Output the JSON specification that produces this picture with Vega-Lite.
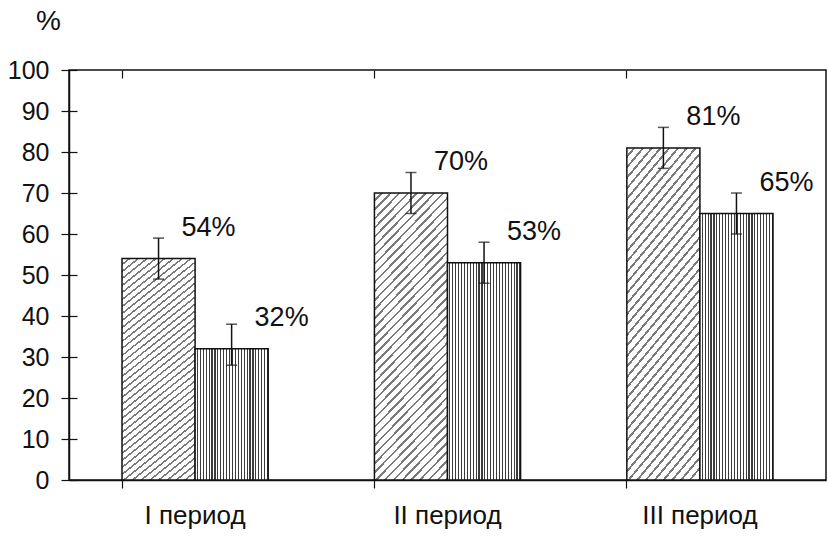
{
  "$schema": "https://vega.github.io/schema/vega-lite/v6.json",
  "width": 757,
  "height": 410,
  "autosize": {"type": "none"},
  "padding": {"left": 69, "top": 70, "right": 2, "bottom": 57},
  "background": "#ffffff",
  "config": {
    "view": {"stroke": "#111111", "strokeWidth": 1.5},
    "font": "Liberation Sans"
  },
  "data": {
    "values": [
      {"period": "I период", "series": "A", "value": 54, "lo": 49, "hi": 59, "label": "54%"},
      {"period": "I период", "series": "B", "value": 32, "lo": 28, "hi": 38, "label": "32%"},
      {"period": "II период", "series": "A", "value": 70, "lo": 65, "hi": 75, "label": "70%"},
      {"period": "II период", "series": "B", "value": 53, "lo": 48, "hi": 58, "label": "53%"},
      {"period": "III период", "series": "A", "value": 81, "lo": 76, "hi": 86, "label": "81%"},
      {"period": "III период", "series": "B", "value": 65, "lo": 60, "hi": 70, "label": "65%"}
    ]
  },
  "resolve": {"axis": {"x": "independent", "y": "independent"}},
  "layer": [
    {
      "transform": [{"filter": "datum.series == 'A'"}],
      "mark": {
        "type": "bar",
        "stroke": "#111111",
        "strokeWidth": 1.5,
        "fill": {
          "gradient": "linear", "x1": 0, "y1": 0, "x2": 0.311, "y2": 1.181,
          "stops": [
            {"offset": 0, "color": "#ffffff"}, {"offset": 0.018, "color": "#ffffff"}, {"offset": 0.018, "color": "#7a7a7a"}, {"offset": 0.025, "color": "#7a7a7a"},
            {"offset": 0.025, "color": "#ffffff"}, {"offset": 0.043, "color": "#ffffff"}, {"offset": 0.043, "color": "#7a7a7a"}, {"offset": 0.05, "color": "#7a7a7a"},
            {"offset": 0.05, "color": "#ffffff"}, {"offset": 0.068, "color": "#ffffff"}, {"offset": 0.068, "color": "#7a7a7a"}, {"offset": 0.075, "color": "#7a7a7a"},
            {"offset": 0.075, "color": "#ffffff"}, {"offset": 0.093, "color": "#ffffff"}, {"offset": 0.093, "color": "#7a7a7a"}, {"offset": 0.1, "color": "#7a7a7a"},
            {"offset": 0.1, "color": "#ffffff"}, {"offset": 0.118, "color": "#ffffff"}, {"offset": 0.118, "color": "#7a7a7a"}, {"offset": 0.125, "color": "#7a7a7a"},
            {"offset": 0.125, "color": "#ffffff"}, {"offset": 0.143, "color": "#ffffff"}, {"offset": 0.143, "color": "#7a7a7a"}, {"offset": 0.15, "color": "#7a7a7a"},
            {"offset": 0.15, "color": "#ffffff"}, {"offset": 0.168, "color": "#ffffff"}, {"offset": 0.168, "color": "#7a7a7a"}, {"offset": 0.175, "color": "#7a7a7a"},
            {"offset": 0.175, "color": "#ffffff"}, {"offset": 0.193, "color": "#ffffff"}, {"offset": 0.193, "color": "#7a7a7a"}, {"offset": 0.2, "color": "#7a7a7a"},
            {"offset": 0.2, "color": "#ffffff"}, {"offset": 0.218, "color": "#ffffff"}, {"offset": 0.218, "color": "#7a7a7a"}, {"offset": 0.225, "color": "#7a7a7a"},
            {"offset": 0.225, "color": "#ffffff"}, {"offset": 0.243, "color": "#ffffff"}, {"offset": 0.243, "color": "#7a7a7a"}, {"offset": 0.25, "color": "#7a7a7a"},
            {"offset": 0.25, "color": "#ffffff"}, {"offset": 0.268, "color": "#ffffff"}, {"offset": 0.268, "color": "#7a7a7a"}, {"offset": 0.275, "color": "#7a7a7a"},
            {"offset": 0.275, "color": "#ffffff"}, {"offset": 0.293, "color": "#ffffff"}, {"offset": 0.293, "color": "#7a7a7a"}, {"offset": 0.3, "color": "#7a7a7a"},
            {"offset": 0.3, "color": "#ffffff"}, {"offset": 0.318, "color": "#ffffff"}, {"offset": 0.318, "color": "#7a7a7a"}, {"offset": 0.325, "color": "#7a7a7a"},
            {"offset": 0.325, "color": "#ffffff"}, {"offset": 0.343, "color": "#ffffff"}, {"offset": 0.343, "color": "#7a7a7a"}, {"offset": 0.35, "color": "#7a7a7a"},
            {"offset": 0.35, "color": "#ffffff"}, {"offset": 0.368, "color": "#ffffff"}, {"offset": 0.368, "color": "#7a7a7a"}, {"offset": 0.375, "color": "#7a7a7a"},
            {"offset": 0.375, "color": "#ffffff"}, {"offset": 0.393, "color": "#ffffff"}, {"offset": 0.393, "color": "#7a7a7a"}, {"offset": 0.4, "color": "#7a7a7a"},
            {"offset": 0.4, "color": "#ffffff"}, {"offset": 0.418, "color": "#ffffff"}, {"offset": 0.418, "color": "#7a7a7a"}, {"offset": 0.425, "color": "#7a7a7a"},
            {"offset": 0.425, "color": "#ffffff"}, {"offset": 0.443, "color": "#ffffff"}, {"offset": 0.443, "color": "#7a7a7a"}, {"offset": 0.45, "color": "#7a7a7a"},
            {"offset": 0.45, "color": "#ffffff"}, {"offset": 0.468, "color": "#ffffff"}, {"offset": 0.468, "color": "#7a7a7a"}, {"offset": 0.475, "color": "#7a7a7a"},
            {"offset": 0.475, "color": "#ffffff"}, {"offset": 0.493, "color": "#ffffff"}, {"offset": 0.493, "color": "#7a7a7a"}, {"offset": 0.5, "color": "#7a7a7a"},
            {"offset": 0.5, "color": "#ffffff"}, {"offset": 0.518, "color": "#ffffff"}, {"offset": 0.518, "color": "#7a7a7a"}, {"offset": 0.525, "color": "#7a7a7a"},
            {"offset": 0.525, "color": "#ffffff"}, {"offset": 0.543, "color": "#ffffff"}, {"offset": 0.543, "color": "#7a7a7a"}, {"offset": 0.55, "color": "#7a7a7a"},
            {"offset": 0.55, "color": "#ffffff"}, {"offset": 0.568, "color": "#ffffff"}, {"offset": 0.568, "color": "#7a7a7a"}, {"offset": 0.575, "color": "#7a7a7a"},
            {"offset": 0.575, "color": "#ffffff"}, {"offset": 0.593, "color": "#ffffff"}, {"offset": 0.593, "color": "#7a7a7a"}, {"offset": 0.6, "color": "#7a7a7a"},
            {"offset": 0.6, "color": "#ffffff"}, {"offset": 0.618, "color": "#ffffff"}, {"offset": 0.618, "color": "#7a7a7a"}, {"offset": 0.625, "color": "#7a7a7a"},
            {"offset": 0.625, "color": "#ffffff"}, {"offset": 0.643, "color": "#ffffff"}, {"offset": 0.643, "color": "#7a7a7a"}, {"offset": 0.65, "color": "#7a7a7a"},
            {"offset": 0.65, "color": "#ffffff"}, {"offset": 0.668, "color": "#ffffff"}, {"offset": 0.668, "color": "#7a7a7a"}, {"offset": 0.675, "color": "#7a7a7a"},
            {"offset": 0.675, "color": "#ffffff"}, {"offset": 0.693, "color": "#ffffff"}, {"offset": 0.693, "color": "#7a7a7a"}, {"offset": 0.7, "color": "#7a7a7a"},
            {"offset": 0.7, "color": "#ffffff"}, {"offset": 0.718, "color": "#ffffff"}, {"offset": 0.718, "color": "#7a7a7a"}, {"offset": 0.725, "color": "#7a7a7a"},
            {"offset": 0.725, "color": "#ffffff"}, {"offset": 0.743, "color": "#ffffff"}, {"offset": 0.743, "color": "#7a7a7a"}, {"offset": 0.75, "color": "#7a7a7a"},
            {"offset": 0.75, "color": "#ffffff"}, {"offset": 0.768, "color": "#ffffff"}, {"offset": 0.768, "color": "#7a7a7a"}, {"offset": 0.775, "color": "#7a7a7a"},
            {"offset": 0.775, "color": "#ffffff"}, {"offset": 0.793, "color": "#ffffff"}, {"offset": 0.793, "color": "#7a7a7a"}, {"offset": 0.8, "color": "#7a7a7a"},
            {"offset": 0.8, "color": "#ffffff"}, {"offset": 0.818, "color": "#ffffff"}, {"offset": 0.818, "color": "#7a7a7a"}, {"offset": 0.825, "color": "#7a7a7a"},
            {"offset": 0.825, "color": "#ffffff"}, {"offset": 0.843, "color": "#ffffff"}, {"offset": 0.843, "color": "#7a7a7a"}, {"offset": 0.85, "color": "#7a7a7a"},
            {"offset": 0.85, "color": "#ffffff"}, {"offset": 0.868, "color": "#ffffff"}, {"offset": 0.868, "color": "#7a7a7a"}, {"offset": 0.875, "color": "#7a7a7a"},
            {"offset": 0.875, "color": "#ffffff"}, {"offset": 0.893, "color": "#ffffff"}, {"offset": 0.893, "color": "#7a7a7a"}, {"offset": 0.9, "color": "#7a7a7a"},
            {"offset": 0.9, "color": "#ffffff"}, {"offset": 0.918, "color": "#ffffff"}, {"offset": 0.918, "color": "#7a7a7a"}, {"offset": 0.925, "color": "#7a7a7a"},
            {"offset": 0.925, "color": "#ffffff"}, {"offset": 0.943, "color": "#ffffff"}, {"offset": 0.943, "color": "#7a7a7a"}, {"offset": 0.95, "color": "#7a7a7a"},
            {"offset": 0.95, "color": "#ffffff"}, {"offset": 0.968, "color": "#ffffff"}, {"offset": 0.968, "color": "#7a7a7a"}, {"offset": 0.975, "color": "#7a7a7a"},
            {"offset": 0.975, "color": "#ffffff"}, {"offset": 0.993, "color": "#ffffff"}, {"offset": 0.993, "color": "#7a7a7a"}, {"offset": 1, "color": "#7a7a7a"}
          ]
        }
      },
      "encoding": {
        "x": {
          "field": "period", "type": "nominal", "sort": null,
          "scale": {"paddingInner": 0.421, "paddingOuter": 0.21},
          "axis": {
            "title": null, "labelAngle": 0, "labelFontSize": 26, "labelColor": "#111111",
            "labelFont": "Liberation Sans", "labelPadding": 14, "tickSize": 8, "bandPosition": 0,
            "tickColor": "#111111", "tickWidth": 1.2, "domainColor": "#111111", "domainWidth": 1.5
          }
        },
        "xOffset": {"field": "series", "type": "nominal", "scale": {"domain": ["A", "B"]}},
        "y": {
          "field": "value", "type": "quantitative",
          "scale": {"domain": [0, 100], "nice": false},
          "axis": {
            "values": [0, 10, 20, 30, 40, 50, 60, 70, 80, 90, 100],
            "title": "%", "titleAngle": 0, "titleFontSize": 28, "titleFontWeight": "normal",
            "titleFont": "Liberation Sans", "titleColor": "#111111",
            "titleX": -21, "titleY": -49, "titleAlign": "center", "titleBaseline": "middle",
            "labelFontSize": 25, "labelColor": "#111111", "labelFont": "Liberation Sans",
            "labelPadding": 12, "tickSize": 8, "tickColor": "#111111", "tickWidth": 1.2,
            "domainColor": "#111111", "domainWidth": 1.5, "grid": false
          }
        }
      }
    },
    {
      "transform": [{"filter": "datum.series == 'B'"}],
      "mark": {
        "type": "bar",
        "stroke": "#111111",
        "strokeWidth": 1.5,
        "fill": {
          "gradient": "linear", "x1": 0, "y1": 0, "x2": 1, "y2": 0,
          "stops": [
            {"offset": 0, "color": "#ffffff"}, {"offset": 0.024, "color": "#ffffff"}, {"offset": 0.024, "color": "#3c3c3c"}, {"offset": 0.04, "color": "#3c3c3c"},
            {"offset": 0.04, "color": "#ffffff"}, {"offset": 0.064, "color": "#ffffff"}, {"offset": 0.064, "color": "#3c3c3c"}, {"offset": 0.08, "color": "#3c3c3c"},
            {"offset": 0.08, "color": "#ffffff"}, {"offset": 0.104, "color": "#ffffff"}, {"offset": 0.104, "color": "#3c3c3c"}, {"offset": 0.12, "color": "#3c3c3c"},
            {"offset": 0.12, "color": "#ffffff"}, {"offset": 0.144, "color": "#ffffff"}, {"offset": 0.144, "color": "#3c3c3c"}, {"offset": 0.16, "color": "#3c3c3c"},
            {"offset": 0.16, "color": "#ffffff"}, {"offset": 0.184, "color": "#ffffff"}, {"offset": 0.184, "color": "#3c3c3c"}, {"offset": 0.2, "color": "#3c3c3c"},
            {"offset": 0.2, "color": "#ffffff"}, {"offset": 0.224, "color": "#ffffff"}, {"offset": 0.224, "color": "#3c3c3c"}, {"offset": 0.24, "color": "#3c3c3c"},
            {"offset": 0.24, "color": "#ffffff"}, {"offset": 0.264, "color": "#ffffff"}, {"offset": 0.264, "color": "#3c3c3c"}, {"offset": 0.28, "color": "#3c3c3c"},
            {"offset": 0.28, "color": "#ffffff"}, {"offset": 0.304, "color": "#ffffff"}, {"offset": 0.304, "color": "#3c3c3c"}, {"offset": 0.32, "color": "#3c3c3c"},
            {"offset": 0.32, "color": "#ffffff"}, {"offset": 0.344, "color": "#ffffff"}, {"offset": 0.344, "color": "#3c3c3c"}, {"offset": 0.36, "color": "#3c3c3c"},
            {"offset": 0.36, "color": "#ffffff"}, {"offset": 0.384, "color": "#ffffff"}, {"offset": 0.384, "color": "#3c3c3c"}, {"offset": 0.4, "color": "#3c3c3c"},
            {"offset": 0.4, "color": "#ffffff"}, {"offset": 0.424, "color": "#ffffff"}, {"offset": 0.424, "color": "#3c3c3c"}, {"offset": 0.44, "color": "#3c3c3c"},
            {"offset": 0.44, "color": "#ffffff"}, {"offset": 0.464, "color": "#ffffff"}, {"offset": 0.464, "color": "#3c3c3c"}, {"offset": 0.48, "color": "#3c3c3c"},
            {"offset": 0.48, "color": "#ffffff"}, {"offset": 0.504, "color": "#ffffff"}, {"offset": 0.504, "color": "#3c3c3c"}, {"offset": 0.52, "color": "#3c3c3c"},
            {"offset": 0.52, "color": "#ffffff"}, {"offset": 0.544, "color": "#ffffff"}, {"offset": 0.544, "color": "#3c3c3c"}, {"offset": 0.56, "color": "#3c3c3c"},
            {"offset": 0.56, "color": "#ffffff"}, {"offset": 0.584, "color": "#ffffff"}, {"offset": 0.584, "color": "#3c3c3c"}, {"offset": 0.6, "color": "#3c3c3c"},
            {"offset": 0.6, "color": "#ffffff"}, {"offset": 0.624, "color": "#ffffff"}, {"offset": 0.624, "color": "#3c3c3c"}, {"offset": 0.64, "color": "#3c3c3c"},
            {"offset": 0.64, "color": "#ffffff"}, {"offset": 0.664, "color": "#ffffff"}, {"offset": 0.664, "color": "#3c3c3c"}, {"offset": 0.68, "color": "#3c3c3c"},
            {"offset": 0.68, "color": "#ffffff"}, {"offset": 0.704, "color": "#ffffff"}, {"offset": 0.704, "color": "#3c3c3c"}, {"offset": 0.72, "color": "#3c3c3c"},
            {"offset": 0.72, "color": "#ffffff"}, {"offset": 0.744, "color": "#ffffff"}, {"offset": 0.744, "color": "#3c3c3c"}, {"offset": 0.76, "color": "#3c3c3c"},
            {"offset": 0.76, "color": "#ffffff"}, {"offset": 0.784, "color": "#ffffff"}, {"offset": 0.784, "color": "#3c3c3c"}, {"offset": 0.8, "color": "#3c3c3c"},
            {"offset": 0.8, "color": "#ffffff"}, {"offset": 0.824, "color": "#ffffff"}, {"offset": 0.824, "color": "#3c3c3c"}, {"offset": 0.84, "color": "#3c3c3c"},
            {"offset": 0.84, "color": "#ffffff"}, {"offset": 0.864, "color": "#ffffff"}, {"offset": 0.864, "color": "#3c3c3c"}, {"offset": 0.88, "color": "#3c3c3c"},
            {"offset": 0.88, "color": "#ffffff"}, {"offset": 0.904, "color": "#ffffff"}, {"offset": 0.904, "color": "#3c3c3c"}, {"offset": 0.92, "color": "#3c3c3c"},
            {"offset": 0.92, "color": "#ffffff"}, {"offset": 0.944, "color": "#ffffff"}, {"offset": 0.944, "color": "#3c3c3c"}, {"offset": 0.96, "color": "#3c3c3c"},
            {"offset": 0.96, "color": "#ffffff"}, {"offset": 0.984, "color": "#ffffff"}, {"offset": 0.984, "color": "#3c3c3c"}, {"offset": 1, "color": "#3c3c3c"}
          ]
        }
      },
      "encoding": {
        "x": {
          "field": "period", "type": "nominal", "sort": null,
          "axis": {
            "title": null, "labels": false, "domain": false, "tickSize": -8, "bandPosition": 0,
            "tickColor": "#111111", "tickWidth": 1.2
          }
        },
        "xOffset": {"field": "series", "type": "nominal", "scale": {"domain": ["A", "B"]}},
        "y": {
          "field": "value", "type": "quantitative",
          "axis": {
            "orient": "left", "values": [0, 10, 20, 30, 40, 50, 60, 70, 80, 90, 100],
            "title": null, "labels": false, "domain": false, "tickSize": -8,
            "tickColor": "#111111", "tickWidth": 1.2, "grid": false
          }
        }
      }
    },
    {
      "mark": {"type": "rule", "color": "#111111", "strokeWidth": 1.5},
      "encoding": {
        "x": {"field": "period", "type": "nominal", "sort": null, "axis": null},
        "xOffset": {"field": "series", "type": "nominal", "scale": {"domain": ["A", "B"]}},
        "y": {"field": "lo", "type": "quantitative", "axis": null},
        "y2": {"field": "hi"}
      }
    },
    {
      "mark": {"type": "tick", "color": "#111111", "thickness": 1.5, "size": 11, "orient": "horizontal"},
      "encoding": {
        "x": {"field": "period", "type": "nominal", "sort": null, "axis": null},
        "xOffset": {"field": "series", "type": "nominal", "scale": {"domain": ["A", "B"]}},
        "y": {"field": "lo", "type": "quantitative", "axis": null}
      }
    },
    {
      "mark": {"type": "tick", "color": "#111111", "thickness": 1.5, "size": 11, "orient": "horizontal"},
      "encoding": {
        "x": {"field": "period", "type": "nominal", "sort": null, "axis": null},
        "xOffset": {"field": "series", "type": "nominal", "scale": {"domain": ["A", "B"]}},
        "y": {"field": "hi", "type": "quantitative", "axis": null}
      }
    },
    {
      "mark": {"type": "text", "fontSize": 27, "color": "#111111", "font": "Liberation Sans", "align": "center", "baseline": "middle", "dx": 50, "dy": -31},
      "encoding": {
        "x": {"field": "period", "type": "nominal", "sort": null, "axis": null},
        "xOffset": {"field": "series", "type": "nominal", "scale": {"domain": ["A", "B"]}},
        "y": {"field": "value", "type": "quantitative", "axis": null},
        "text": {"field": "label"}
      }
    }
  ]
}
